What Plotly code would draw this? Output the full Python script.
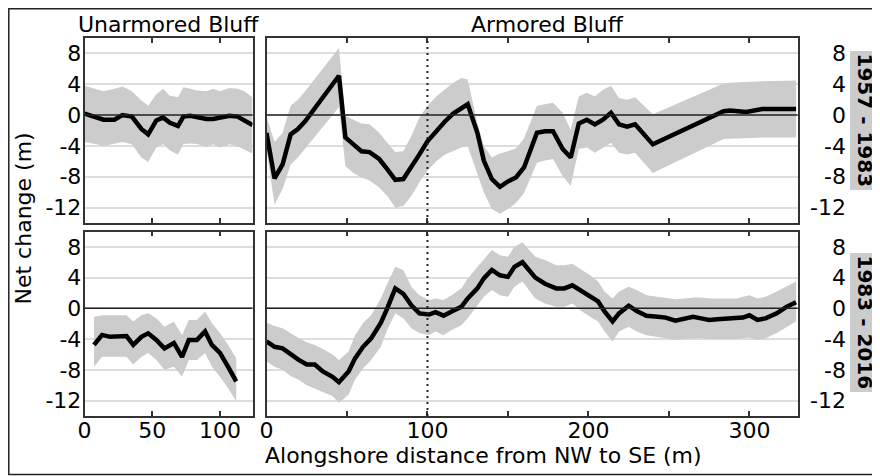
import plotly.graph_objects as go

# ---------------- data ----------------
# Unarmored bluff, 1957-1983
TL_X = [0, 8, 14, 22, 28, 35, 42, 47, 53, 58, 63, 69, 73, 78, 83, 90, 95, 100, 107, 113, 118, 124]
TL_Y = [0.2, -0.3, -0.6, -0.6, 0.0, -0.2, -1.8, -2.5, -0.7, -0.3, -1.0, -1.4, -0.2, -0.1, -0.3, -0.5, -0.5, -0.3, -0.1, -0.2, -0.7, -1.3]
TL_HI = [3.8, 3.4, 3.1, 3.4, 3.7, 3.1, 1.9, 1.2, 2.7, 3.4, 2.5, 2.3, 3.6, 3.4, 3.2, 3.1, 3.4, 3.1, 3.5, 3.4, 3.1, 2.3]
TL_LO = [-3.5, -3.75, -4.0, -3.75, -3.5, -3.8, -5.5, -6.1, -4.2, -3.75, -4.6, -5.1, -3.75, -3.7, -3.75, -4.1, -3.8, -4.2, -3.8, -4.0, -4.5, -5.0]

# Armored bluff, 1957-1983
TR_X = [0, 5, 10, 15, 19.5, 24, 45, 49, 54, 59, 64, 70, 75, 80, 85, 90, 95, 100, 106, 111, 116, 121, 125, 131, 135,
        140, 145, 150, 155, 160, 168, 173, 178, 184, 189, 194, 199, 204, 209, 214, 219, 224, 229, 240, 284, 288, 298, 308, 329]
TR_Y = [-2.3, -8.2, -6.4, -2.5, -1.8, -0.8, 5.1, -2.9, -3.8, -4.7, -4.8, -5.7, -7.0, -8.4, -8.3, -6.8, -5.1, -3.4, -1.9, -0.8, 0.2, 0.9, 1.4, -2.3, -5.9,
        -8.3, -9.3, -8.6, -8.1, -6.8, -2.3, -2.1, -2.1, -4.4, -5.5, -1.1, -0.6, -1.2, -0.6, 0.3, -1.2, -1.5, -1.2, -3.8, 0.5, 0.6, 0.4, 0.8, 0.8]
TR_HI = [-0.2, -3.5, -2.3, 1.2, 2.0, 3.1, 8.7, -0.1, -0.6, -1.1, -1.2, -2.3, -3.6, -4.8, -4.7, -2.7, -0.3, 1.2, 2.5, 3.3, 4.2, 4.8, 4.6, -1.0, -4.0,
         -5.5, -5.0, -4.7, -4.3, -3.0, 1.2, 1.4, 1.6, 0.3, -1.9, 2.4, 2.9, 2.4, 3.3, 3.8, 2.2, 2.0, 2.3, 0.1, 4.1, 4.2, 4.3, 4.4, 4.5]
TR_LO = [-4.5, -11.6, -9.6, -6.4, -5.5, -4.4, 1.0, -6.6, -7.5, -8.1, -8.5, -9.4, -10.5, -12.0, -11.8, -10.5, -8.7, -7.2, -5.9, -5.1, -4.7, -4.2, -4.0, -7.5, -10.0,
         -12.2, -12.8, -12.2, -11.4, -10.1, -6.2, -5.9, -5.7, -7.9, -9.2, -4.4, -4.2, -4.9, -4.2, -3.6, -4.9, -5.1, -4.9, -7.5, -3.1, -3.1, -3.0, -2.9, -2.9]

# Unarmored bluff, 1983-2016
BL_X = [7, 13, 19, 25, 31, 36, 42, 47, 53, 59, 66, 72, 77, 83, 89, 94, 100, 106, 112]
BL_Y = [-4.75, -3.45, -3.7, -3.7, -3.6, -4.75, -3.7, -3.25, -4.1, -5.2, -4.5, -6.3, -4.1, -4.1, -3.0, -4.75, -5.8, -7.6, -9.5]
BL_HI = [-1.1, -0.9, -0.9, -0.9, -0.9, -1.7, -0.9, -0.65, -1.3, -2.4, -1.7, -3.5, -1.5, -1.5, -0.4, -1.9, -3.2, -4.75, -6.5]
BL_LO = [-7.6, -6.3, -6.3, -6.3, -6.3, -7.3, -6.3, -5.8, -6.7, -8.0, -7.6, -8.9, -6.7, -6.7, -5.8, -7.6, -8.9, -10.4, -12.1]

# Armored bluff, 1983-2016
BR_X = [0, 5, 10, 15, 20, 25, 30, 35, 41, 45, 51, 55, 60, 65, 71, 75, 80, 85, 90, 95,
        101, 105, 110, 115, 121, 125, 131, 135, 140, 145, 150, 154, 159, 167, 173, 180, 185, 190, 196, 201,
        206, 210, 215, 219, 225, 230, 236, 243, 248, 254, 260, 265, 270, 275, 280, 286, 292, 296, 300, 305,
        310, 317, 323, 329]
BR_Y = [-4.3, -5.0, -5.2, -6.0, -6.7, -7.3, -7.3, -8.2, -8.9, -9.6, -8.2, -6.5, -5.0, -3.9, -1.9, 0.0, 2.6, 1.9, 0.4, -0.65,
        -0.8, -0.5, -0.95, -0.4, 0.2, 1.3, 2.6, 3.9, 5.0, 4.3, 4.1, 5.4, 6.0, 4.0, 3.2, 2.6, 2.6, 3.0, 2.2, 1.5,
        0.9, -0.4, -1.7, -0.65, 0.35, -0.35, -0.95, -1.1, -1.2, -1.6, -1.4, -1.1, -1.3, -1.5, -1.4, -1.3, -1.3, -1.2, -0.9, -1.5,
        -1.3, -0.65, 0.2, 0.8]
BR_HI = [-1.85, -2.3, -2.6, -3.3, -3.9, -4.4, -4.75, -5.3, -6.0, -6.7, -5.6, -3.5, -1.9, -0.9, 1.3, 3.2, 5.4, 5.0, 2.8, 1.7,
         1.1, 1.3, 1.1, 1.7, 2.6, 3.9, 5.4, 6.5, 7.6, 6.9, 6.7, 8.0, 8.6, 6.7, 6.3, 5.6, 5.6, 5.8, 5.0, 4.3,
         3.5, 2.2, 1.3, 2.2, 2.8, 2.4, 1.7, 1.5, 1.4, 1.2, 1.3, 1.4, 1.4, 1.3, 1.3, 1.3, 1.3, 1.5, 1.7, 1.3,
         1.5, 2.2, 2.8, 3.5]
BR_LO = [-6.9, -7.6, -8.0, -8.8, -9.3, -10.0, -10.4, -10.9, -11.4, -12.3, -11.2, -9.3, -7.8, -6.7, -5.0, -2.8, -0.65, -1.3, -2.6, -3.2,
         -3.5, -3.0, -3.5, -2.8, -2.2, -1.3, 0.4, 1.5, 2.4, 1.7, 1.5, 2.8, 3.5, 1.3, 0.65, 0.2, 0.2, 0.65, -0.4, -1.1,
         -1.7, -3.0, -4.3, -3.0, -2.4, -3.0, -3.5, -3.7, -3.9, -4.1, -4.0, -3.9, -3.9, -4.0, -4.0, -4.0, -4.0, -3.9, -3.8, -4.1,
         -3.9, -3.2, -2.4, -1.7]

BOUNDARY_X = 100  # dotted line in armored panels

Y_TICKS = [8, 4, 0, -4, -8, -12]
Y_LABELS = ["8", "4", "0", "-4", "-8", "-12"]
XL_TICKS = [0, 50, 100]
XL_LABELS = ["0", "50", "100"]
XR_TICKS = [0, 50, 100, 150, 200, 250, 300]
XR_LABELS = ["0", "", "100", "", "200", "", "300"]

PANEL_TITLES = ["Unarmored Bluff", "Armored Bluff"]
PERIODS = ["1957 - 1983", "1983 - 2016"]
Y_TITLE = "Net change (m)"
X_TITLE = "Alongshore distance from NW to SE (m)"

# ---------------- layout geometry ----------------
# the page body has an 8px margin, so the figure is sized to fit the window
OFF = 8
FW, FH = 880 - OFF, 476 - OFF
FONT = "DejaVu Sans"
def px(x): return (x - OFF) / FW
def py(y): return 1 - (y - OFF) / FH

XL_DOM = [px(84.5), px(252.5)]
XR_DOM = [px(266.5), px(797.7)]
YT_DOM = [py(223), py(38)]
YB_DOM = [py(416), py(231.5)]
Y_RANGE = [-14, 10]

fig = go.Figure()

panels = [
    ("x", "y", TL_X, TL_Y, TL_HI, TL_LO),
    ("x2", "y2", TR_X, TR_Y, TR_HI, TR_LO),
    ("x3", "y3", BL_X, BL_Y, BL_HI, BL_LO),
    ("x4", "y4", BR_X, BR_Y, BR_HI, BR_LO),
]
for xa, ya, xs, ys, hi, lo in panels:
    fig.add_trace(go.Scatter(x=xs + xs[::-1], y=hi + lo[::-1], fill="toself",
                             fillcolor="#cccccc", line=dict(width=0), mode="lines",
                             xaxis=xa, yaxis=ya, showlegend=False, hoverinfo="skip"))
    fig.add_trace(go.Scatter(x=xs, y=ys, mode="lines", line=dict(color="black", width=4.5),
                             xaxis=xa, yaxis=ya, showlegend=False))

# invisible traces to host right-hand tick-label axes
fig.add_trace(go.Scatter(x=[None], y=[None], xaxis="x2", yaxis="y5", showlegend=False, hoverinfo="skip"))
fig.add_trace(go.Scatter(x=[None], y=[None], xaxis="x4", yaxis="y6", showlegend=False, hoverinfo="skip"))

axis_line = dict(showline=True, linecolor="#333333", linewidth=1.5)
tickfont = dict(family=FONT, size=22, color="black")

def xax(dom, anchor, rng, tv, tt, labels):
    return dict(domain=dom, anchor=anchor, range=rng, tickvals=tv, ticktext=tt,
                showticklabels=labels, ticks="inside", ticklen=5, tickwidth=1.5,
                tickcolor="#333333", mirror="ticks", showgrid=False, zeroline=False,
                tickfont=tickfont, automargin=False, ticklabelstandoff=-6, **axis_line)

def yax(dom, anchor, labels):
    return dict(domain=dom, anchor=anchor, range=Y_RANGE, tickvals=Y_TICKS, ticktext=Y_LABELS,
                showticklabels=labels, ticks="", mirror=True, showgrid=True,
                gridcolor="#dddddd", gridwidth=1.5, zeroline=False, tickfont=tickfont,
                automargin=False, ticklabelstandoff=-3, **axis_line)

def yright(over):
    return dict(overlaying=over, anchor="free", position=px(846), side="left",
                range=Y_RANGE, tickvals=Y_TICKS, ticktext=Y_LABELS, showgrid=False,
                zeroline=False, showline=False, ticks="", tickfont=tickfont, automargin=False)

fig.update_layout(
    width=FW, height=FH, margin=dict(l=0, r=0, t=0, b=0, autoexpand=False),
    paper_bgcolor="white", plot_bgcolor="white",
    font=dict(family=FONT, color="black"),
    xaxis=xax(XL_DOM, "y", [0, 124], XL_TICKS, XL_LABELS, False),
    xaxis2=xax(XR_DOM, "y2", [0, 330], XR_TICKS, XR_LABELS, False),
    xaxis3=xax(XL_DOM, "y3", [0, 124], XL_TICKS, XL_LABELS, True),
    xaxis4=xax(XR_DOM, "y4", [0, 330], XR_TICKS, XR_LABELS, True),
    yaxis=yax(YT_DOM, "x", True),
    yaxis2=yax(YT_DOM, "x2", False),
    yaxis3=yax(YB_DOM, "x3", True),
    yaxis4=yax(YB_DOM, "x4", False),
    yaxis5=yright("y2"),
    yaxis6=yright("y4"),
)

shapes = []
# zero lines drawn above the bands
for xa, ya in [("x", "y"), ("x2", "y2"), ("x3", "y3"), ("x4", "y4")]:
    shapes.append(dict(type="line", xref=f"{xa} domain", yref=ya, x0=0, x1=1, y0=0, y1=0,
                       line=dict(color="#222222", width=1.5), layer="above"))
# dotted boundary
for xa, ya in [("x2", "y2"), ("x4", "y4")]:
    shapes.append(dict(type="line", xref=xa, yref=f"{ya} domain", x0=BOUNDARY_X, x1=BOUNDARY_X,
                       y0=0, y1=1, line=dict(color="#222222", width=2, dash="2px,4px"), layer="above"))
# outer frame
shapes.append(dict(type="rect", xref="paper", yref="paper", x0=px(8.8), x1=1.05, y0=py(474.5), y1=py(8.8),
                   line=dict(color="#222222", width=1.5), fillcolor="rgba(0,0,0,0)"))
fig.update_layout(shapes=shapes)

ann = []
title_font = dict(family=FONT, size=22, color="black")
ann.append(dict(text=PANEL_TITLES[0], x=px(168), y=py(25), xref="paper", yref="paper",
                xanchor="center", yanchor="middle", showarrow=False, font=title_font))
ann.append(dict(text=PANEL_TITLES[1], x=px(547.5), y=py(25), xref="paper", yref="paper",
                xanchor="center", yanchor="middle", showarrow=False, font=title_font))
ann.append(dict(text=Y_TITLE, x=px(23), y=py(218.5), xref="paper", yref="paper", textangle=-90,
                xanchor="center", yanchor="middle", showarrow=False, font=title_font))
ann.append(dict(text=X_TITLE, x=px(483.5), y=py(455), xref="paper", yref="paper",
                xanchor="center", yanchor="middle", showarrow=False, font=title_font))
for label, yc in zip(PERIODS, [120.5, 322.5]):
    ann.append(dict(text=f"<b>{label}</b>", x=px(865), y=py(yc), xref="paper", yref="paper",
                    textangle=90, xanchor="center", yanchor="middle", showarrow=False,
                    bgcolor="#cccccc", borderpad=2,
                    font=dict(family=FONT, size=20, color="black")))
fig.update_layout(annotations=ann)

fig.write_html("out.html")
